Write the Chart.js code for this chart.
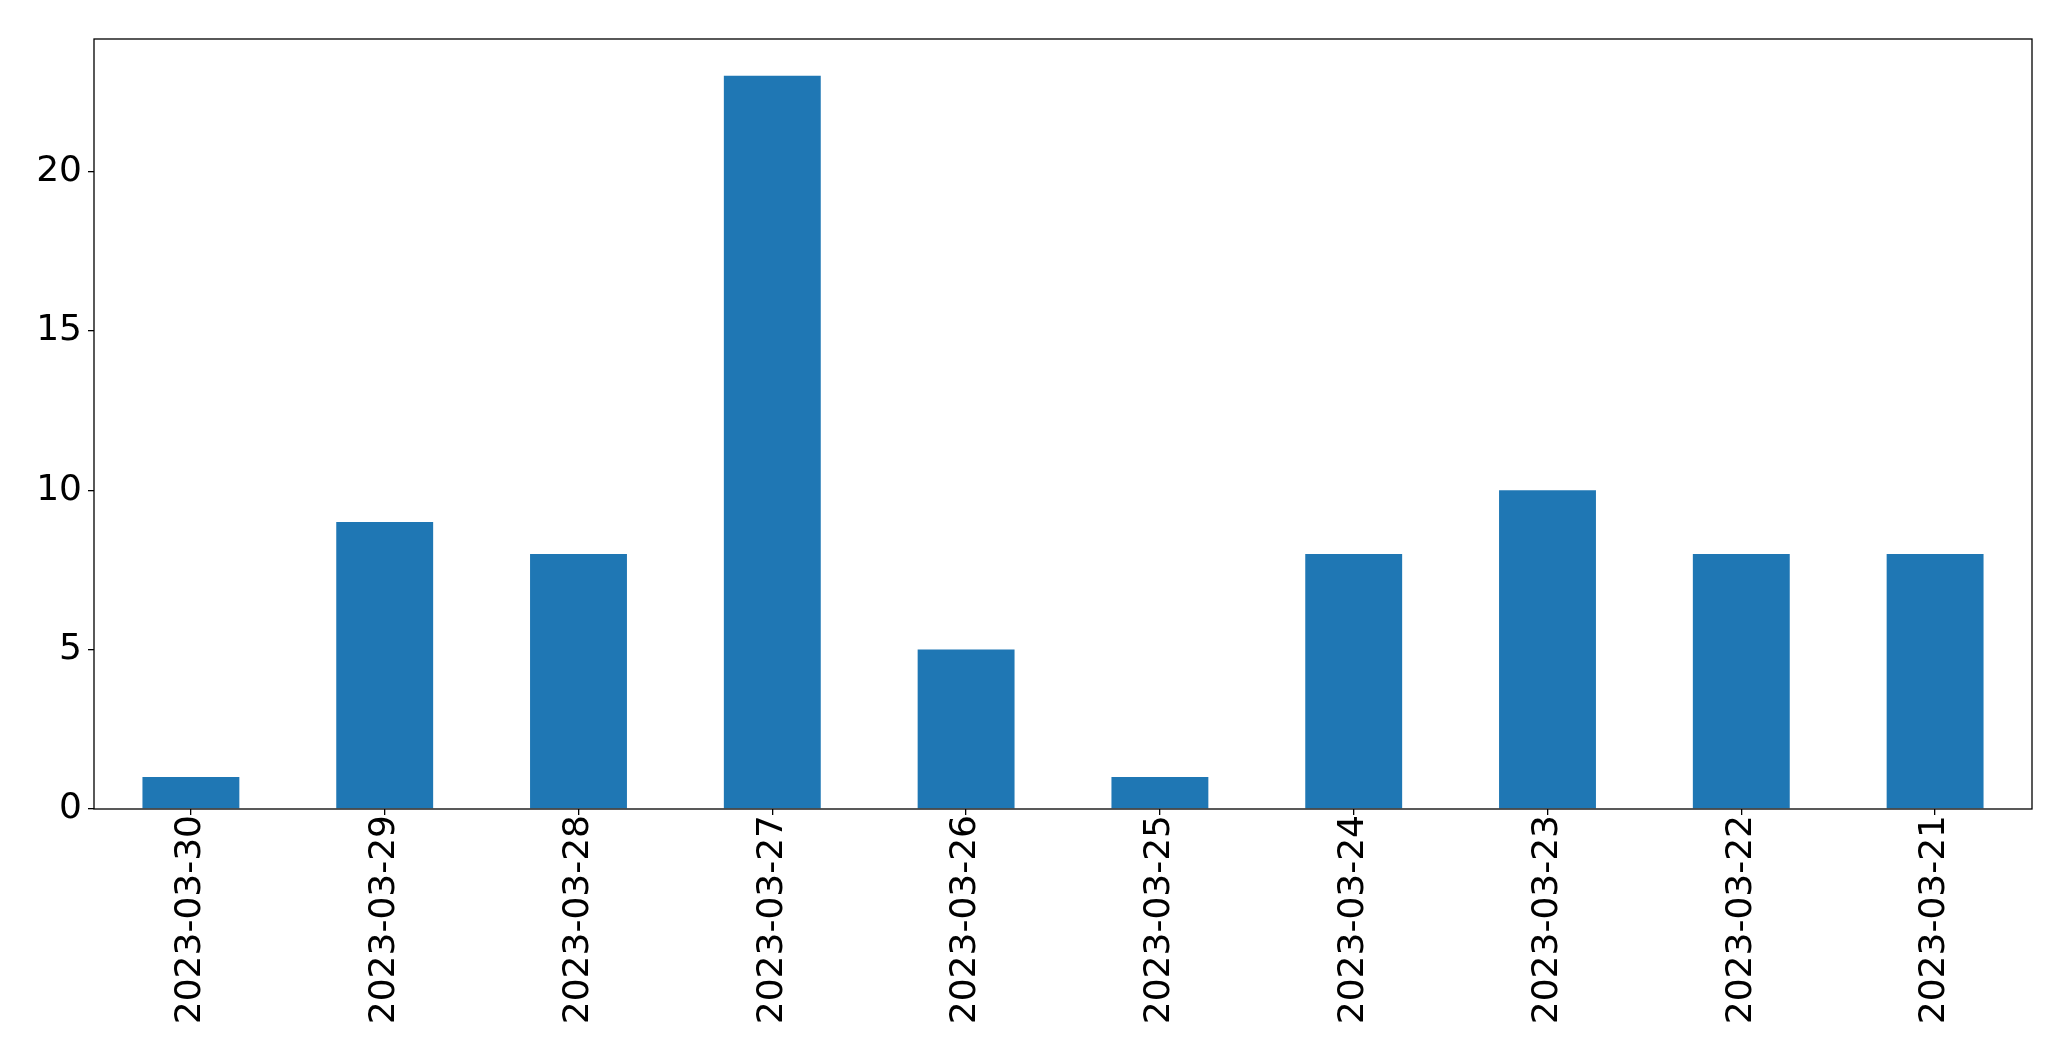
<!DOCTYPE html>
<html>
<head>
<meta charset="utf-8">
<script src="https://cdn.jsdelivr.net/npm/chart.js@4.4.0/dist/chart.umd.min.js"></script>
<style>
  html, body { margin: 0; padding: 0; background: #fff; }
  #wrap { width: 2071px; height: 1061px; }
</style>
</head>
<body>
<div id="wrap"><canvas id="chart" width="2071" height="1061"></canvas></div>
<script>
const dates = ['2023-03-30', '2023-03-29', '2023-03-28', '2023-03-27', '2023-03-26',
               '2023-03-25', '2023-03-24', '2023-03-23', '2023-03-22', '2023-03-21'];
const counts = [1, 9, 8, 23, 5, 1, 8, 10, 8, 8];
const yTicks = [0, 5, 10, 15, 20];

// box round the plot area, like matplotlib's spines
const frame = {
  id: 'frame',
  afterDatasetsDraw(chart) {
    const { ctx, chartArea: a } = chart;
    ctx.save();
    ctx.strokeStyle = '#000';
    ctx.lineWidth = 1.3;
    ctx.strokeRect(a.left, a.top, a.right - a.left, a.bottom - a.top);
    ctx.restore();
  }
};

const font = { family: 'DejaVu Sans', size: 36 };

new Chart(document.getElementById('chart'), {
  type: 'bar',
  data: {
    labels: dates,
    datasets: [{
      data: counts,
      backgroundColor: '#1f77b4',
      barPercentage: 0.5,
      categoryPercentage: 1.0
    }]
  },
  options: {
    responsive: false,
    animation: false,
    layout: { padding: { top: 39, right: 39, bottom: 0, left: 0 } },
    plugins: { legend: { display: false }, tooltip: { enabled: false } },
    scales: {
      x: {
        grid: { display: true, offset: false, drawOnChartArea: false, drawTicks: true, tickLength: 6, color: '#000', lineWidth: 1.3 },
        border: { display: false },
        ticks: { color: '#000', font, minRotation: 90, maxRotation: 90, padding: 0, autoSkip: false },
        afterFit: (s) => { s.height = 252; }
      },
      y: {
        min: 0,
        max: 24.15,
        grid: { display: true, drawOnChartArea: false, drawTicks: true, tickLength: 6, color: '#000', lineWidth: 1.3 },
        border: { display: false },
        ticks: { color: '#000', font, stepSize: 5, padding: 6 },
        afterBuildTicks: (s) => { s.ticks = yTicks.map(v => ({ value: v })); },
        afterFit: (s) => { s.width = 94; }
      }
    }
  },
  plugins: [frame]
});
</script>
</body>
</html>
